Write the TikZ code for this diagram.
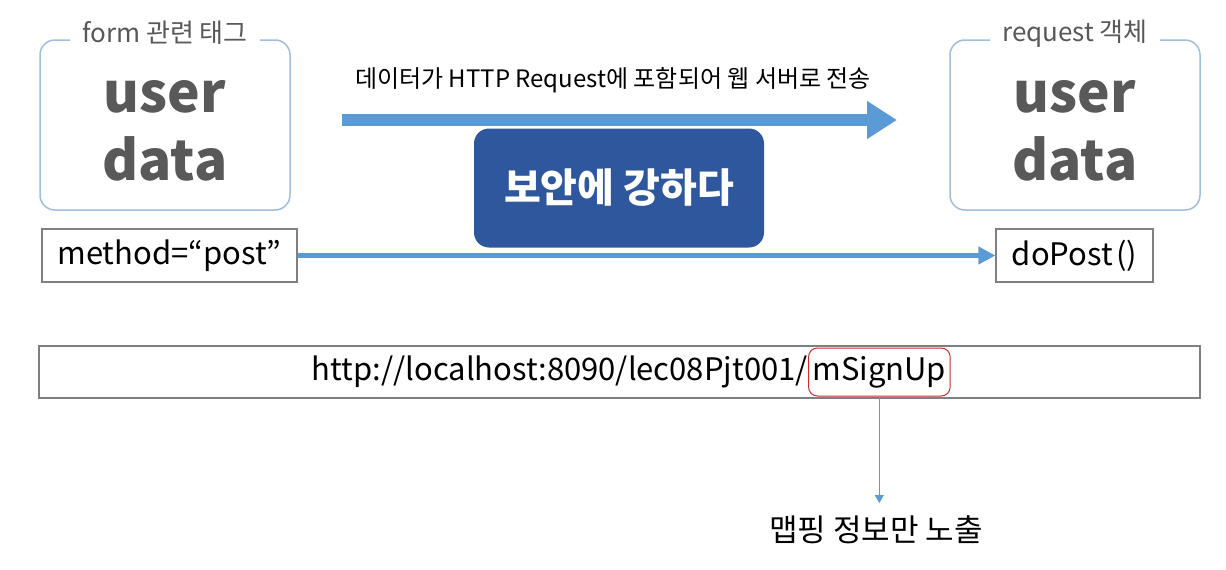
\documentclass[tikz,border=0pt]{standalone}
\usepackage{fontspec}
\setmainfont{Noto Sans CJK KR}
\usetikzlibrary{arrows.meta,positioning}
\definecolor{framebl}{RGB}{160,190,222}
\definecolor{arrowbl}{RGB}{91,155,213}
\definecolor{darkbl}{RGB}{47,87,158}
\definecolor{txtgray}{RGB}{89,89,89}
\definecolor{boxgray}{RGB}{128,128,128}
\definecolor{mapred}{RGB}{200,45,45}
\tikzset{
	every node/.style={
		font=\fontsize{31}{36}\selectfont
	},
	side/.style={
		draw=framebl,
		line width=1.5pt,
		rounded corners=15pt,
		minimum width=250pt,
		minimum height=170pt
	},
	sidetitle/.style={
		fill=white,
		text=txtgray,
		inner xsep=12pt,
		inner ysep=1pt,
		yshift=6pt,
		font=\fontsize{26}{30}\selectfont
	},
	bigword/.style={
		text=txtgray,
		inner sep=0pt,
		anchor=base,
		font=\fontsize{55}{62}\selectfont\bfseries
	},
	codebox/.style={
		draw=boxgray,
		line width=1.2pt,
		minimum height=53pt,
		inner xsep=8pt
	},
	secure/.style={
		fill=darkbl,
		rounded corners=15pt,
		minimum width=290pt,
		minimum height=119pt,
		text=white,
		font=\fontsize{40}{44}\selectfont\bfseries
	},
	mapping/.style={
		draw=mapred,
		line width=1pt,
		rounded corners=9pt,
		minimum height=48pt,
		inner xsep=4pt
	},
	bigflow/.style={
		draw=arrowbl,
		line width=12pt,
		-{Triangle[length=30pt,width=36pt]}
	},
	flow/.style={
		draw=arrowbl,
		line width=5pt,
		-{Triangle[length=17pt,width=17pt]}
	},
	thinflow/.style={
		draw=arrowbl,
		line width=1.2pt,
		-{Triangle[length=8pt,width=9pt]}
	}
}
\begin{document}
\begin{tikzpicture}[x=1pt,y=-1pt]
	\useasboundingbox (0,0) rectangle (1226,570);
	
	% form side
	\node[side] (formbox) at (165,125) {};
	\node[sidetitle] (formtitle) at (formbox.north) {form 관련 태그};
	\node[bigword] (formuser) at (165,112) {user};
	\node[bigword] (formdata) at (165,180) {data};
	
	% request side
	\node[side] (reqbox) at (1075,125) {};
	\node[sidetitle] (reqtitle) at (reqbox.north) {request 객체};
	\node[bigword] (requser) at (1075,112) {user};
	\node[bigword] (reqdata) at (1075,180) {data};
	
	\coordinate (sendfrom) at (342,120);
	\coordinate (sendto) at (897,120);
	\draw[bigflow] (sendfrom) -- (sendto);
	\node[anchor=base, font=\fontsize{24}{28}\selectfont] (sendtxt) at (613,87) {데이터가 HTTP Request에 포함되어 웹 서버로 전송};
	
	\node[secure] (secure) at (619,188) {보안에 강하다};
	
	\node[codebox, minimum width=255pt] (method) at (169.5,255.5) {method=“post”};
	\node[codebox, minimum width=157pt] (dopost) at (1074.5,255.5) {doPost\kern3pt()};
	\draw[flow] (method) -- (dopost);
	
	% url line
	\node[draw=boxgray, line width=1.2pt, minimum width=1161pt, minimum height=52pt] (urlbox) at (619.5,372) {};
	\node[mapping, anchor=west] (mapname) at (808,372) {mSignUp};
	\node[anchor=base east, inner xsep=0pt] (urlpath) at (mapname.base west) {http://localhost:8090/lec08Pjt001/};
	\coordinate (mapend) at (mapname.south |- 0,503);
	\draw[thinflow] (mapname.south) -- (mapend);
	\node[anchor=base] (mapnote) at (876,541) {맵핑 정보만 노출};
\end{tikzpicture}
\end{document}
